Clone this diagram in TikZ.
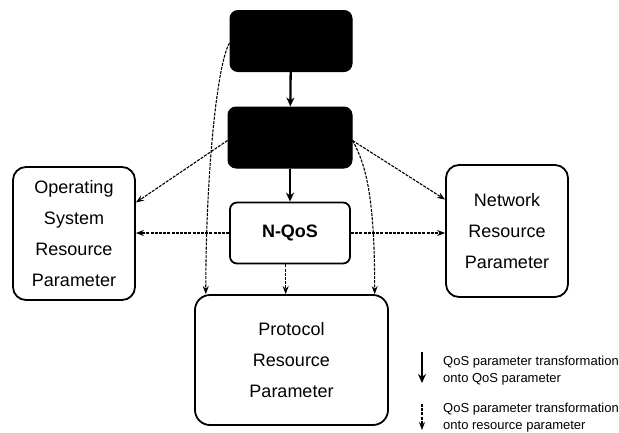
\documentclass[tikz,border=0pt]{standalone}
\usepackage{fontspec}
\setmainfont{Liberation Sans}
\usetikzlibrary{arrows.meta,calc}
\begin{document}
\begin{tikzpicture}[x=1pt,y=-1pt,
  blackbox/.style={draw=black,fill=black,rounded corners=8pt,minimum width=122pt,minimum height=61pt,line width=1pt,inner sep=0pt},
  resbox/.style={draw=black,line width=1.8pt,rounded corners=13pt,align=center,font=\fontsize{18}{31}\selectfont,inner sep=0pt},
  solidarr/.style={line width=2.3pt,-{Stealth[length=9pt,width=8pt]}},
  dasharr/.style={line width=1.1pt,dash pattern=on 3pt off 1.2pt,-{Stealth[length=8pt,width=6pt]}},
  legtext/.style={anchor=west,align=left,font=\fontsize{13}{17}\selectfont,inner sep=0pt}
]
\useasboundingbox (0,0) rectangle (619,432);

% nodes
\node[blackbox] (top) at (291,41) {};
\node[blackbox,minimum width=124pt] (mid) at (290,137.5) {};
\node[resbox,minimum width=120pt,minimum height=61pt,rounded corners=7pt,font=\bfseries\fontsize{18}{22}\selectfont] (nqos) at (290,233) {N-QoS};
\node[resbox,minimum width=122pt,minimum height=133pt] (os) at (74,233.5) {Operating\\System\\Resource\\Parameter};
\node[resbox,minimum width=122pt,minimum height=132pt] (net) at (507,231) {Network\\Resource\\Parameter};
\node[resbox,minimum width=193pt,minimum height=130pt,rounded corners=15pt] (proto) at (291.5,360) {Protocol\\Resource\\Parameter};

% anchor points
\coordinate (osin) at ($(os.north east)!0.27!(os.south east)$);
\coordinate (netin) at ($(net.north west)!0.265!(net.south west)$);
\coordinate (midl) at ($(mid.west)+(0,3)$);
\coordinate (midr) at ($(mid.east)+(0,3)$);
\coordinate (topl) at ($(top.west)+(0,2)$);
\coordinate (p1) at ($(proto.north west)!0.06!(proto.north east)$);
\coordinate (p2) at ($(proto.north west)!0.47!(proto.north east)$);
\coordinate (p3) at ($(proto.north west)!0.927!(proto.north east)$);
\coordinate (nq) at (nqos.south -| p2);

% connectors
\draw[solidarr] (top) -- (mid);
\draw[solidarr] (mid) -- (nqos);
\draw[dasharr] (midl) -- (osin);
\draw[dasharr] (midr) -- (netin);
\draw[dasharr] (nqos.west) -- (os.east |- nqos.west);
\draw[dasharr] (nqos.east) -- (net.west |- nqos.east);
\draw[dasharr] (nq) -- (p2);
\draw[dasharr] (topl) .. controls +(-13,22) and +(0,-115) .. (p1);
\draw[dasharr] (midr) .. controls +(14,25) and +(0,-95) .. (p3);

% legend
\coordinate (l1a) at (422,352);
\coordinate (l1b) at (422,383);
\coordinate (l2a) at (422,404);
\coordinate (l2b) at (422,430);
\draw[solidarr,line width=1.8pt] (l1a) -- (l1b);
\draw[dasharr] (l2a) -- (l2b);
\node[legtext] (leg1) at (443,371) {QoS parameter transformation\\onto QoS parameter};
\node[legtext] (leg2) at (443,418) {QoS parameter transformation\\onto resource parameter};
\end{tikzpicture}
\end{document}
